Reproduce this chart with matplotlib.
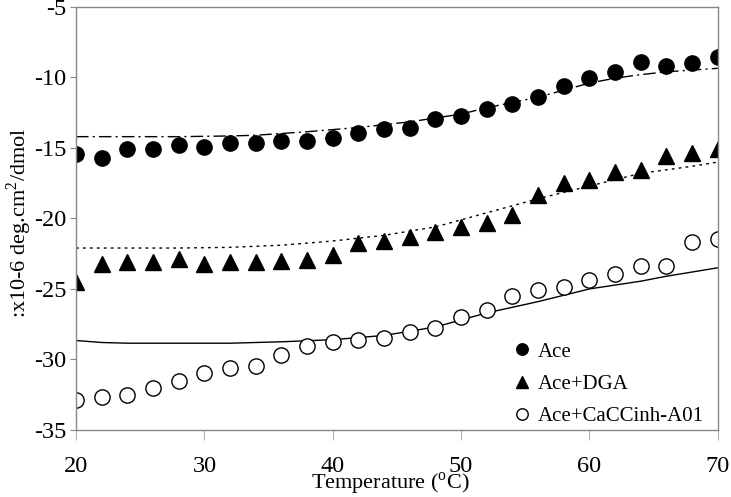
"""
Ellipticity of Ace with DGA and CaCCinh-A01 versus temperature
"""

import matplotlib.pyplot as plt

plt.rcParams['font.family'] = ['Liberation Serif', 'DejaVu Serif']
plt.rcParams['mathtext.fontset'] = 'custom'
plt.rcParams['mathtext.rm'] = 'Liberation Serif'
plt.rcParams['axes.unicode_minus'] = False

temp = [20, 22, 24, 26, 28, 30, 32, 34, 36, 38, 40, 42, 44,
        46, 48, 50, 52, 54, 56, 58, 60, 62, 64, 66, 68, 70]

ace = [-15.45, -15.7, -15.07, -15.07, -14.8, -14.9, -14.67, -14.67, -14.48,
       -14.48, -14.31, -13.96, -13.65, -13.56, -12.97, -12.73, -12.25, -11.9,
       -11.36, -10.6, -10.06, -9.63, -8.9, -9.16, -8.95, -8.52]
ace_dga = [-24.5, -23.2, -23.1, -23.06, -22.87, -23.2, -23.1, -23.1, -23.0,
           -22.95, -22.6, -21.76, -21.57, -21.33, -20.93, -20.6, -20.34, -19.75,
           -18.33, -17.5, -17.27, -16.68, -16.56, -15.6, -15.38, -15.07]
ace_cacc = [-32.87, -32.7, -32.54, -32.05, -31.5, -30.93, -30.58, -30.5, -29.68,
            -29.04, -28.78, -28.6, -28.45, -28.05, -27.74, -26.99, -26.5, -25.5,
            -25.07, -24.83, -24.36, -23.94, -23.37, -23.37, -21.64, -21.48]

# fitted curves
fit_ace_x = [20, 24, 28, 32, 34, 38, 42, 46, 50, 52, 56, 58, 60, 62, 64, 66, 70]
fit_ace_y = [-14.2, -14.2, -14.2, -14.15, -14.1, -13.85, -13.55, -13.15, -12.6,
             -12.15, -11.4, -10.9, -10.4, -10.05, -9.8, -9.6, -9.35]
fit_dga_x = [20, 24, 28, 32, 36, 40, 44, 48, 52, 56, 60, 64, 68, 70]
fit_dga_y = [-22.1, -22.1, -22.1, -22.05, -21.9, -21.6, -21.2, -20.6, -19.6,
             -18.6, -17.7, -16.8, -16.3, -16.0]
fit_cacc_x = [20, 22, 24, 32, 36, 40, 44, 48, 50, 52, 54, 56, 60, 64, 66, 70]
fit_cacc_y = [-28.66, -28.8, -28.85, -28.85, -28.75, -28.6, -28.3, -27.7, -27.2,
              -26.7, -26.3, -25.9, -25.0, -24.45, -24.1, -23.5]

fig = plt.figure(figsize=(7.31, 4.97), dpi=100)
ax = fig.add_axes([0.104, 0.135, 0.878, 0.851])

ax.plot(fit_ace_x, fit_ace_y, color='black', lw=1.0, dashes=[9, 3, 1.5, 3])
ax.plot(fit_dga_x, fit_dga_y, color='black', lw=1.0, dashes=[2, 3])
ax.plot(fit_cacc_x, fit_cacc_y, color='black', lw=1.0)

ax.plot(temp, ace, 'o', color='black', ms=11, label='Ace')
ax.plot(temp, ace_dga, '^', color='black', ms=11, label='Ace+DGA')
ax.plot(temp, ace_cacc, 'o', mfc='white', mec='black', mew=1.0, ms=11,
        label='Ace+CaCCinh-A01')

ax.set_xlim(20, 70)
ax.set_ylim(-35, -5)
ax.set_xticks([20, 30, 40, 50, 60, 70])
ax.set_yticks([-35, -30, -25, -20, -15, -10, -5])
ax.tick_params(axis='x', direction='out', length=7, color='#b0b0b0',
               labelsize=17.5, pad=12)
ax.tick_params(axis='y', direction='out', length=4, color='#888888',
               labelsize=17.5, pad=3)
for s in ax.spines.values():
    s.set_color('#888888')
    s.set_linewidth(1.0)

ax.set_ylabel(r':x10-6 deg.cm$^2$/dmol', fontsize=16)
ax.yaxis.set_label_coords(-0.066, 0.49)
ax.set_xlabel(r'Temperature ($^{\rm o}$C)', fontsize=16)
ax.xaxis.set_label_coords(0.49, -0.097)

ax.legend(loc='lower right', bbox_to_anchor=(1.008, -0.035), frameon=False,
          fontsize=15, markerscale=0.75, handlelength=0.8, handletextpad=0.4,
          labelspacing=0.6)

plt.savefig('out.png', dpi=100)
